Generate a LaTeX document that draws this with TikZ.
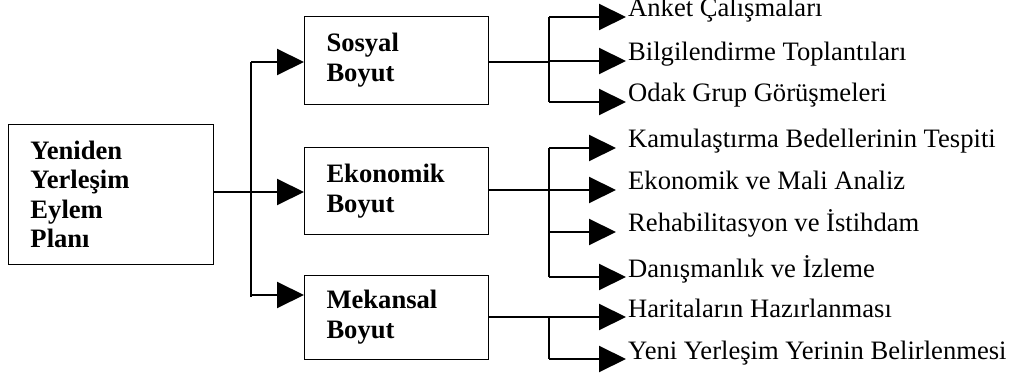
\documentclass[tikz,border=0pt]{standalone}
\usepackage{fontspec}
\setmainfont{Liberation Serif}
\usetikzlibrary{arrows.meta}
\begin{document}
\begin{tikzpicture}[x=1pt,y=-1pt,
  box/.style={draw,line width=1pt,anchor=north west,inner xsep=22pt,inner ysep=0pt,align=left,font=\fontsize{26.6}{30}\selectfont\bfseries},
  lbl/.style={anchor=base west,inner sep=0pt,font=\fontsize{26.6}{30}\selectfont},
  conn/.style={line width=2pt},
  arr/.style={line width=2pt,-{Triangle[length=27pt,width=26pt]}}]
\useasboundingbox (0,0) rectangle (1015,374);
% boxes
\node[box,text width=161pt,minimum height=140pt,font=\fontsize{26.6}{29.5}\selectfont\bfseries] (main) at (8,124) {Yeniden\\Yerleşim\\Eylem\\Planı};
\node[box,text width=140pt,minimum height=88pt] (s) at (304,16) {Sosyal\\Boyut};
\node[box,text width=140pt,minimum height=87pt] (e) at (304,147) {Ekonomik\\Boyut};
\node[box,text width=140pt,minimum height=84pt] (m) at (304,275) {Mekansal\\Boyut};
% labels
\node[lbl] (l1) at (628,17) {Anket Çalışmaları};
\node[lbl] (l2) at (628,61) {Bilgilendirme Toplantıları};
\node[lbl] (l3) at (628,102) {Odak Grup Görüşmeleri};
\node[lbl] (l4) at (628,148) {Kamulaştırma Bedellerinin Tespiti};
\node[lbl] (l5) at (628,190) {Ekonomik ve Mali Analiz};
\node[lbl] (l6) at (628,232) {Rehabilitasyon ve İstihdam};
\node[lbl] (l7) at (628,277) {Danışmanlık ve İzleme};
\node[lbl] (l8) at (628,317) {Haritaların Hazırlanması};
\node[lbl] (l9) at (628,359) {Yeni Yerleşim Yerinin Belirlenmesi};
% bus coordinates
\coordinate (t) at (251,0);
\coordinate (b) at (549,0);
% main to dimensions
\draw[arr] (main.east |- 0,192) -- (e.west |- 0,192);
\draw[conn] (t |- 0,62) -- (t |- 0,297);
\draw[arr] (t |- 0,62) -- (s.west |- 0,62);
\draw[arr] (t |- 0,295) -- (m.west |- 0,295);
% Sosyal
\draw[conn] (s.east |- 0,62) -- (b |- 0,62);
\draw[conn] (b |- l1.base) -- (b |- l3.base);
\draw[arr] (b |- l1.base) -- ([xshift=-2pt]l1.base west);
\draw[arr] (b |- l2.base) -- ([xshift=-2pt]l2.base west);
\draw[arr] (b |- l3.base) -- ([xshift=-2pt]l3.base west);
% Ekonomik
\draw[arr] (e.east |- l5.base) -- ([xshift=-12pt]l5.base west);
\draw[conn] (b |- l4.base) -- (b |- l7.base);
\draw[arr] (b |- l4.base) -- ([xshift=-12pt]l4.base west);
\draw[arr] (b |- l6.base) -- ([xshift=-12pt]l6.base west);
\draw[arr] (b |- l7.base) -- ([xshift=-2pt]l7.base west);
% Mekansal
\draw[arr] (m.east |- l8.base) -- ([xshift=-2pt]l8.base west);
\draw[conn] (b |- l8.base) -- (b |- l9.base);
\draw[arr] (b |- l9.base) -- ([xshift=-2pt]l9.base west);
\end{tikzpicture}
\end{document}
